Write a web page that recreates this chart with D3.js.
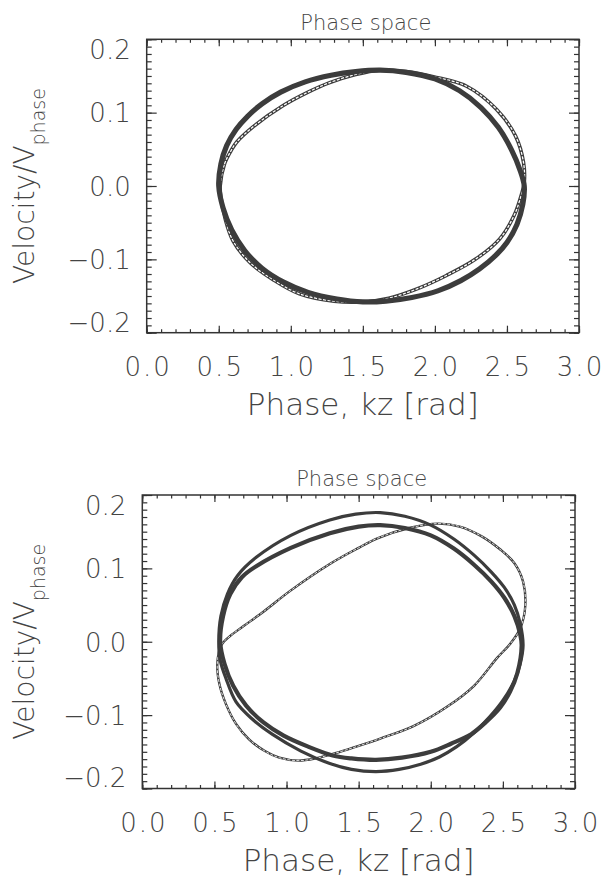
<!DOCTYPE html>
<html>

<head>
    <meta charset="UTF-8">
    <title>Phase space</title>
    <style>
        body { margin: 0; background: #fff; }
        text { font-family: "DejaVu Sans", sans-serif; font-weight: 200; fill: #444; }
    </style>
</head>

<body>
    <script src="https://d3js.org/d3.v7.min.js"></script>
    <svg width="607" height="879"></svg>

    <script>
        let svg = d3.select("svg");

        // tick values shared by both panels
        let xTicks = [0.0, 0.5, 1.0, 1.5, 2.0, 2.5, 3.0];
        let yTicks = [-0.2, -0.1, 0.0, 0.1, 0.2];

        // top panel orbits, [phase kz, velocity/Vphase]
        let topThick = [
            [0.50, 0.000], [0.515, 0.030], [0.555, 0.055], [0.62, 0.077], [0.70, 0.095],
            [0.80, 0.112], [0.93, 0.128], [1.10, 0.142], [1.28, 0.151], [1.45, 0.156],
            [1.62, 0.158], [1.80, 0.155], [2.00, 0.146], [2.17, 0.130], [2.32, 0.107],
            [2.44, 0.080], [2.53, 0.050], [2.59, 0.022], [2.62, 0.000], [2.61, -0.025],
            [2.57, -0.052], [2.50, -0.077], [2.42, -0.095], [2.31, -0.113], [2.18, -0.129],
            [2.02, -0.143], [1.84, -0.152], [1.66, -0.157], [1.50, -0.158], [1.32, -0.154],
            [1.12, -0.145], [0.95, -0.131], [0.80, -0.112], [0.68, -0.088], [0.59, -0.060],
            [0.53, -0.030]
        ];
        let topThin = [
            [0.51, 0.000], [0.54, 0.030], [0.585, 0.048], [0.625, 0.060], [0.74, 0.081],
            [0.95, 0.110], [1.12, 0.128], [1.27, 0.141], [1.45, 0.152], [1.62, 0.158],
            [1.80, 0.156], [1.99, 0.149], [2.22, 0.136], [2.43, 0.104], [2.56, 0.068],
            [2.615, 0.032], [2.62, 0.005], [2.60, -0.012], [2.55, -0.040], [2.45, -0.072],
            [2.28, -0.100], [2.08, -0.122], [1.88, -0.140], [1.68, -0.153], [1.50, -0.158],
            [1.30, -0.157], [1.06, -0.147], [0.88, -0.128], [0.72, -0.105], [0.60, -0.075],
            [0.545, -0.045], [0.515, -0.015]
        ];

        // bottom panel orbits
        let botMid = [
            [0.54, 0.000], [0.56, 0.035], [0.61, 0.065], [0.69, 0.088], [0.79, 0.103],
            [1.03, 0.128], [1.30, 0.148], [1.50, 0.157], [1.65, 0.159], [1.82, 0.155],
            [2.00, 0.145], [2.16, 0.127], [2.30, 0.105], [2.42, 0.082], [2.51, 0.060],
            [2.58, 0.035], [2.62, 0.010], [2.63, -0.005], [2.60, -0.043], [2.55, -0.068],
            [2.48, -0.090], [2.38, -0.110], [2.28, -0.126], [2.14, -0.139], [2.00, -0.150],
            [1.80, -0.158], [1.62, -0.161], [1.45, -0.159], [1.32, -0.155], [1.15, -0.143],
            [0.98, -0.128], [0.84, -0.110], [0.72, -0.087], [0.63, -0.060], [0.57, -0.030]
        ];
        let botOuter = [
            [0.53, 0.000], [0.545, 0.035], [0.59, 0.065], [0.66, 0.090], [0.79, 0.115],
            [1.03, 0.145], [1.30, 0.166], [1.48, 0.174], [1.65, 0.176], [1.82, 0.171],
            [2.00, 0.159], [2.16, 0.140], [2.30, 0.118], [2.42, 0.095], [2.51, 0.074],
            [2.58, 0.050], [2.62, 0.025], [2.64, -0.005], [2.62, -0.030], [2.58, -0.053],
            [2.50, -0.080], [2.41, -0.102], [2.30, -0.124], [2.18, -0.143], [2.06, -0.157],
            [1.93, -0.167], [1.78, -0.174], [1.62, -0.177], [1.45, -0.174], [1.30, -0.166],
            [1.10, -0.149], [0.90, -0.126], [0.76, -0.105], [0.65, -0.082], [0.58, -0.050],
            [0.54, -0.025]
        ];
        let botTilted = [
            [0.52, -0.030], [0.55, -0.004], [0.61, 0.008], [0.70, 0.021], [0.84, 0.041],
            [1.03, 0.070], [1.30, 0.106], [1.50, 0.128], [1.63, 0.141], [1.85, 0.155],
            [2.05, 0.161], [2.20, 0.157], [2.35, 0.144], [2.48, 0.126], [2.58, 0.107],
            [2.64, 0.082], [2.655, 0.048], [2.62, 0.018], [2.55, -0.003], [2.46, -0.022],
            [2.30, -0.060], [2.11, -0.089], [1.88, -0.115], [1.65, -0.132], [1.50, -0.142],
            [1.37, -0.150], [1.20, -0.159], [1.08, -0.162], [0.95, -0.158], [0.85, -0.149],
            [0.74, -0.133], [0.65, -0.112], [0.58, -0.085], [0.535, -0.058]
        ];

        // layout of the two panels
        let panels = [
            { left: 146.7, right: 579, top: 39.3, bottom: 332.7,
              curves: [
                  { data: topThin, width: 3.6, double: true },
                  { data: topThick, width: 5.2 }
              ] },
            { left: 142.3, right: 575, top: 495, bottom: 788.5,
              curves: [
                  { data: botTilted, width: 2.4, double: true },
                  { data: botOuter, width: 3.2 },
                  { data: botMid, width: 4.2 }
              ] }
        ];

        let ink = "#3c3c3c";
        let xMinor = d3.range(0, 3.0001, 0.1);
        let yMinor = d3.range(-0.2, 0.2001, 0.01);

        panels.forEach(draw_panel);

        function draw_panel(p) {
            let x = d3.scaleLinear().domain([0, 3]).range([p.left, p.right]);
            let y = d3.scaleLinear().domain([-0.2, 0.2]).range([p.bottom, p.top]);
            let g = svg.append("g");

            let line = d3.line()
                .x(d => x(d[0]))
                .y(d => y(d[1]))
                .curve(d3.curveCatmullRomClosed.alpha(0.5));

            // orbits
            p.curves.forEach(c => {
                g.append("path")
                    .attr("d", line(c.data))
                    .attr("fill", "none")
                    .attr("stroke", ink)
                    .attr("stroke-width", c.width);
                if (c.double) {
                    // hollow, hatched look of the thin orbit
                    g.append("path")
                        .attr("d", line(c.data))
                        .attr("fill", "none")
                        .attr("stroke", "#fff")
                        .attr("stroke-width", c.width * 0.35)
                        .attr("stroke-dasharray", "3 1.5");
                }
            });

            // ticks on all four sides, pointing inwards
            let tick_style = sel => {
                sel.select(".domain").remove();
                sel.selectAll(".tick line").attr("stroke", "#333").attr("stroke-width", 1.2);
            };
            g.append("g").attr("transform", `translate(0,${p.bottom})`)
                .call(d3.axisBottom(x).tickValues(xMinor).tickFormat("").tickSizeInner(-3.5).tickSizeOuter(0))
                .call(tick_style);
            g.append("g").attr("transform", `translate(0,${p.top})`)
                .call(d3.axisTop(x).tickValues(xMinor).tickFormat("").tickSizeInner(-3.5).tickSizeOuter(0))
                .call(tick_style);
            g.append("g").attr("transform", `translate(0,${p.top})`)
                .call(d3.axisTop(x).tickValues(xTicks).tickFormat("").tickSizeInner(-7).tickSizeOuter(0))
                .call(tick_style);
            g.append("g").attr("transform", `translate(${p.left},0)`)
                .call(d3.axisLeft(y).tickValues(yMinor).tickFormat("").tickSizeInner(-5).tickSizeOuter(0))
                .call(tick_style);
            g.append("g").attr("transform", `translate(${p.right},0)`)
                .call(d3.axisRight(y).tickValues(yMinor).tickFormat("").tickSizeInner(-5).tickSizeOuter(0))
                .call(tick_style);
            g.append("g").attr("transform", `translate(${p.right},0)`)
                .call(d3.axisRight(y).tickValues(yTicks).tickFormat("").tickSizeInner(-10).tickSizeOuter(0))
                .call(tick_style);

            // labelled axes
            let xa = g.append("g").attr("transform", `translate(0,${p.bottom})`)
                .call(d3.axisBottom(x).tickValues(xTicks).tickFormat(d3.format(".1f"))
                    .tickSizeInner(-7).tickSizeOuter(0).tickPadding(25))
                .call(tick_style);
            xa.selectAll("text").attr("fill", null)
                .style("font-size", "26px").style("letter-spacing", "2px").attr("dx", 1);

            let ya = g.append("g").attr("transform", `translate(${p.left},0)`)
                .call(d3.axisLeft(y).tickValues(yTicks).tickFormat(d3.format(".1f"))
                    .tickSizeInner(-10).tickSizeOuter(0).tickPadding(16))
                .call(tick_style);
            ya.selectAll("text").attr("fill", null).style("font-size", "26px")
                .attr("y", d => d === 0.2 ? 11 : (d === -0.2 ? -10 : 1));

            // frame
            g.append("rect")
                .attr("x", p.left).attr("y", p.top)
                .attr("width", p.right - p.left).attr("height", p.bottom - p.top)
                .attr("fill", "none").attr("stroke", "#333").attr("stroke-width", 1.5);

            let cx = (p.left + p.right) / 2;
            let cy = (p.top + p.bottom) / 2;

            g.append("text")
                .attr("x", cx + 3).attr("y", p.top - 9)
                .attr("text-anchor", "middle")
                .style("font-size", "21px")
                .text("Phase space");

            g.append("text")
                .attr("x", cx).attr("y", p.bottom + 82.5)
                .attr("text-anchor", "middle")
                .style("font-size", "31px")
                .text("Phase, kz [rad]");

            let yt = g.append("text")
                .attr("transform", `translate(34,${cy}) rotate(-90)`)
                .attr("text-anchor", "middle")
                .style("font-size", "28px");
            yt.append("tspan").text("Velocity/V");
            yt.append("tspan").attr("dy", 11).style("font-size", "19px").text("phase");
        }
    </script>
</body>

</html>
